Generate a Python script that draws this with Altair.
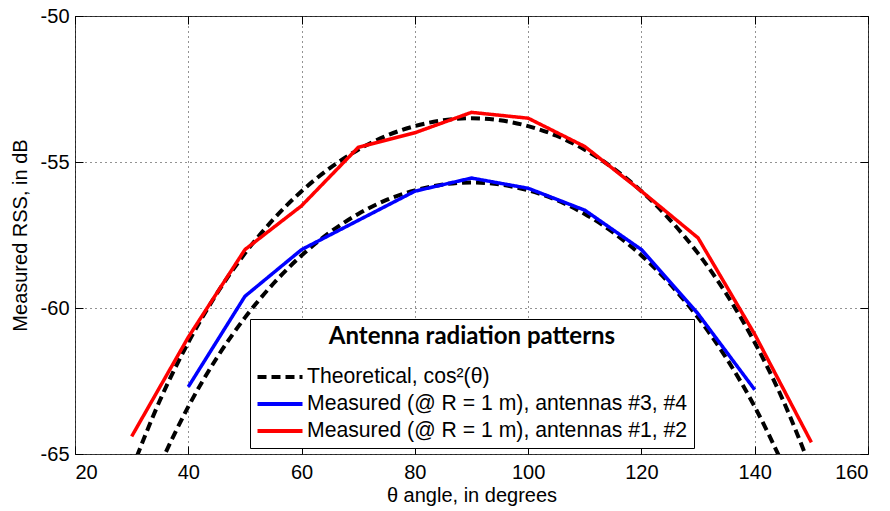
import altair as alt
import pandas as pd

# ---- data ----
LBL_T = "Theoretical, cos\u00b2(\u03b8)"
LBL_34 = "Measured (@ R = 1 m), antennas #3, #4"
LBL_12 = "Measured (@ R = 1 m), antennas #1, #2"

theta_th_upper = [30, 35, 40, 45, 50, 55, 60, 65, 70, 75, 80, 85, 90,
                  95, 100, 105, 110, 115, 120, 125, 130, 135, 140, 145, 150]
rss_th_upper = [-65.54, -63.16, -61.18, -59.52, -58.13, -56.97, -56.00, -55.21, -54.58, -54.10, -53.77, -53.57, -53.50,
                -53.57, -53.77, -54.10, -54.58, -55.21, -56.00, -56.97, -58.13, -59.52, -61.18, -63.16, -65.54]

theta_th_lower = [35, 40, 45, 50, 55, 60, 65, 70, 75, 80, 85, 90,
                  95, 100, 105, 110, 115, 120, 125, 130, 135, 140, 145]
rss_th_lower = [-65.36, -63.38, -61.72, -60.33, -59.17, -58.20, -57.41, -56.78, -56.30, -55.97, -55.77, -55.70,
                -55.77, -55.97, -56.30, -56.78, -57.41, -58.20, -59.17, -60.33, -61.72, -63.38, -65.36]

theta_a12 = [30, 40, 50, 60, 70, 80, 90, 100, 110, 120, 130, 140, 150]
rss_a12 = [-64.4, -61.0, -58.0, -56.5, -54.5, -54.0, -53.3, -53.5, -54.47, -56.0, -57.6, -60.9, -64.6]

theta_a34 = [40, 50, 60, 70, 80, 90, 100, 110, 120, 130, 140]
rss_a34 = [-62.7, -59.6, -58.0, -57.0, -56.0, -55.55, -55.9, -56.65, -58.0, -60.2, -62.8]

series_order = [LBL_T, LBL_34, LBL_12]
series_colors = ["#000000", "#0000ff", "#ff0000"]
series_dash = [[9, 5], [1, 0], [1, 0]]

x_ticks = [20, 40, 60, 80, 100, 120, 140, 160]
y_ticks = [-65, -60, -55, -50]

# ---- tables ----
th = pd.concat([
    pd.DataFrame({"theta": theta_th_upper, "rss": rss_th_upper, "curve": "upper", "series": LBL_T}),
    pd.DataFrame({"theta": theta_th_lower, "rss": rss_th_lower, "curve": "lower", "series": LBL_T}),
])
meas = pd.concat([
    pd.DataFrame({"theta": theta_a34, "rss": rss_a34, "curve": "a34", "series": LBL_34}),
    pd.DataFrame({"theta": theta_a12, "rss": rss_a12, "curve": "a12", "series": LBL_12}),
])

FONT = "Liberation Sans"
xscale = alt.Scale(domain=[20, 160], nice=False, zero=False)
yscale = alt.Scale(domain=[-65, -50], nice=False, zero=False)
legend = alt.Legend(
    title="Antenna radiation patterns",
    orient="none", legendX=175, legendY=303,
    titleFont="Lato", titleFontSize=24, titleFontWeight="bold",
    titleAnchor="middle", titlePadding=16, titleColor="black", titleLimit=600,
    labelFont=FONT, labelFontSize=21.2, labelColor="black", labelLimit=600,
    symbolType="M-2.25,0H2.25", symbolSize=400, symbolStrokeWidth=4,
    symbolOffset=12, labelOffset=15, rowPadding=4, padding=6,
    strokeColor="black", fillColor="white",
)
color_enc = alt.Color(
    "series:N",
    scale=alt.Scale(domain=series_order, range=series_colors),
    sort=series_order,
    legend=legend,
)
dash_enc = alt.StrokeDash(
    "series:N",
    scale=alt.Scale(domain=series_order, range=series_dash),
    sort=series_order,
    legend=legend,
)

main_x_axis = alt.Axis(values=x_ticks, ticks=False, domain=False, grid=True,
                       gridDash=[1, 4], gridColor="#000000", gridOpacity=0.85,
                       labelFont=FONT, labelFontSize=20, labelColor="black", labelPadding=8,
                       labelExpr="'' + datum.value",
                       title="\u03b8 angle, in degrees", titleFont=FONT, titleFontSize=20,
                       titleFontWeight="normal", titleColor="black", titlePadding=3)
main_y_axis = alt.Axis(values=y_ticks, ticks=False, domain=False, grid=True,
                       gridDash=[1, 4], gridColor="#000000", gridOpacity=0.85,
                       labelFont=FONT, labelFontSize=20, labelColor="black", labelPadding=6,
                       labelExpr="'' + datum.value",
                       title="Measured RSS, in dB", titleFont=FONT, titleFontSize=20,
                       titleFontWeight="normal", titleColor="black", titlePadding=10)


def tick_axis(orient, values):
    return alt.Axis(orient=orient, values=values, offset=-8, ticks=True, tickSize=8,
                    tickColor="black", tickWidth=1, labels=False, domain=False,
                    grid=False, title=None)


theory = alt.Chart(th).mark_line(strokeWidth=4, clip=True, interpolate="monotone").encode(
    x=alt.X("theta:Q", scale=xscale, axis=main_x_axis),
    y=alt.Y("rss:Q", scale=yscale, axis=main_y_axis),
    color=color_enc,
    strokeDash=dash_enc,
    detail="curve:N",
)

measured = alt.Chart(meas).mark_line(strokeWidth=3.5, clip=True).encode(
    x=alt.X("theta:Q", scale=xscale, axis=tick_axis("bottom", x_ticks)),
    y=alt.Y("rss:Q", scale=yscale, axis=tick_axis("left", y_ticks)),
    color=color_enc,
    strokeDash=dash_enc,
    detail="curve:N",
)

ghost = alt.Chart(th).mark_line(strokeOpacity=0, clip=True).encode(
    x=alt.X("theta:Q", scale=xscale, axis=tick_axis("top", x_ticks)),
    y=alt.Y("rss:Q", scale=yscale, axis=tick_axis("right", y_ticks)),
    detail="curve:N",
)

chart = alt.layer(theory, measured, ghost).resolve_axis(
    x="independent", y="independent"
).properties(
    width=793, height=438,
    padding={"left": 75, "top": 16, "right": 22, "bottom": 57},
    autosize=alt.AutoSizeParams(type="none"),
    background="white",
).configure_view(stroke="#3a3a3a", strokeWidth=1)

chart.save("out.html", embed_options={"renderer": "svg", "actions": False})
